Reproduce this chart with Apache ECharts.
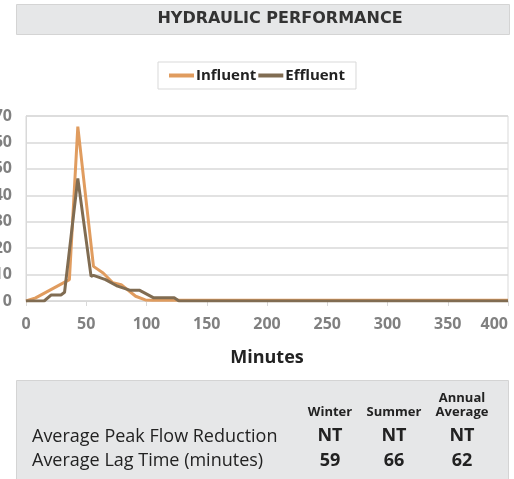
<!DOCTYPE html>
<html>
<head>
<meta charset="utf-8">
<script src="https://cdn.jsdelivr.net/npm/echarts@6/dist/echarts.min.js"></script>
<style>
  html, body { margin: 0; padding: 0; background: #fff; }
  #chart { width: 514px; height: 479px; }
</style>
</head>
<body>
<div id="chart"></div>
<script>
// minutes / flow
var influentMin = [0, 8, 36, 43, 56, 64, 72, 79, 91, 99, 105, 400];
var influentVal = [0, 1.2, 8.1, 66, 13.1, 10.6, 6.9, 6.2, 1.8, 0.4, 0.3, 0.3];
var effluentMin = [0, 15, 21, 29, 32, 43, 54, 56, 66, 76, 86, 94, 106, 123, 127, 400];
var effluentVal = [0, 0, 2.3, 2.3, 3.3, 46.4, 9.3, 9.7, 8.1, 5.6, 4.1, 4.1, 1.2, 1.2, 0, 0];

var seasons = ['Winter', 'Summer', 'Annual\nAverage'];
var peakReduction = ['NT', 'NT', 'NT'];
var lagTime = ['59', '66', '62'];

function pairs(xs, ys) {
  return xs.map(function (x, i) { return [x, ys[i]]; });
}

var chart = echarts.init(document.getElementById('chart'));

var colX = [330, 394, 462];
var tableText = [];
seasons.forEach(function (s, i) {
  tableText.push({
    type: 'text', x: colX[i], y: 419,
    style: { text: s, font: 'bold 13px "Open Sans"', fill: '#222', align: 'center', verticalAlign: 'bottom', lineHeight: 14 }
  });
  tableText.push({
    type: 'text', x: colX[i], y: 436,
    style: { text: peakReduction[i], font: 'bold 18px "Open Sans"', fill: '#222', align: 'center', verticalAlign: 'middle' }
  });
  tableText.push({
    type: 'text', x: colX[i], y: 461,
    style: { text: lagTime[i], font: 'bold 18px "Open Sans"', fill: '#222', align: 'center', verticalAlign: 'middle' }
  });
});

chart.setOption({
  animation: false,
  textStyle: { fontFamily: '"Open Sans", sans-serif' },
  legend: {
    top: 62,
    left: 'center',
    data: ['Influent', 'Effluent'],
    itemWidth: 25,
    itemHeight: 4,
    itemGap: 2,
    padding: [6, 11, 6, 11],
    borderColor: '#d9d9d9',
    borderWidth: 1,
    icon: 'rect',
    textStyle: { fontSize: 15, fontWeight: 'bold', color: '#222', padding: [0, 0, 0, -3] }
  },
  grid: {
    left: 26, right: 6, top: 116, bottom: 178,
    outerBoundsMode: 'none', containLabel: false,
    show: true, borderColor: '#d9d9d9', borderWidth: 1
  },
  xAxis: {
    type: 'value',
    min: 0, max: 400, interval: 50,
    name: 'Minutes',
    nameLocation: 'middle',
    nameGap: 48,
    nameTextStyle: { fontSize: 18, fontWeight: 'bold', color: '#222' },
    axisLine: { lineStyle: { color: '#d9d9d9' } },
    axisTick: { show: true, length: 5, lineStyle: { color: '#d9d9d9' } },
    axisLabel: { fontSize: 16, fontWeight: 'bold', color: '#808080', margin: 15, alignMaxLabel: 'right' },
    splitLine: { show: false }
  },
  yAxis: {
    type: 'value',
    min: 0, max: 70, interval: 10,
    axisLine: { show: true, lineStyle: { color: '#d9d9d9' } },
    axisTick: { show: false },
    axisLabel: { fontSize: 16, fontWeight: 'bold', color: '#808080', margin: 14 },
    splitLine: { lineStyle: { color: '#d9d9d9', width: 1.5 } }
  },
  series: [
    {
      name: 'Influent', type: 'line', data: pairs(influentMin, influentVal),
      showSymbol: false, color: '#e09c5f', lineStyle: { width: 3 }, z: 2
    },
    {
      name: 'Effluent', type: 'line', data: pairs(effluentMin, effluentVal),
      showSymbol: false, color: '#806c52', lineStyle: { width: 3 }, z: 3
    }
  ],
  graphic: [
    {
      type: 'rect', shape: { x: 16.5, y: 4.5, width: 493, height: 30 },
      style: { fill: '#e6e7e8', stroke: '#d4d4d4', lineWidth: 1 }, z: -1
    },
    {
      type: 'text', x: 280, y: 19,
      style: { text: 'HYDRAULIC PERFORMANCE', font: 'bold 16px "DejaVu Sans"', fill: '#333', align: 'center', verticalAlign: 'middle' }
    },
    {
      type: 'rect', shape: { x: 16.5, y: 380.5, width: 492, height: 110 },
      style: { fill: '#e6e7e8', stroke: '#d4d4d4', lineWidth: 1 }, z: -1
    },
    {
      type: 'text', x: 32, y: 437,
      style: { text: 'Average Peak Flow Reduction', font: '18px "Open Sans"', fill: '#222', verticalAlign: 'middle' }
    },
    {
      type: 'text', x: 32, y: 461,
      style: { text: 'Average Lag Time (minutes)', font: '18px "Open Sans"', fill: '#222', verticalAlign: 'middle' }
    }
  ].concat(tableText)
});
</script>
</body>
</html>
